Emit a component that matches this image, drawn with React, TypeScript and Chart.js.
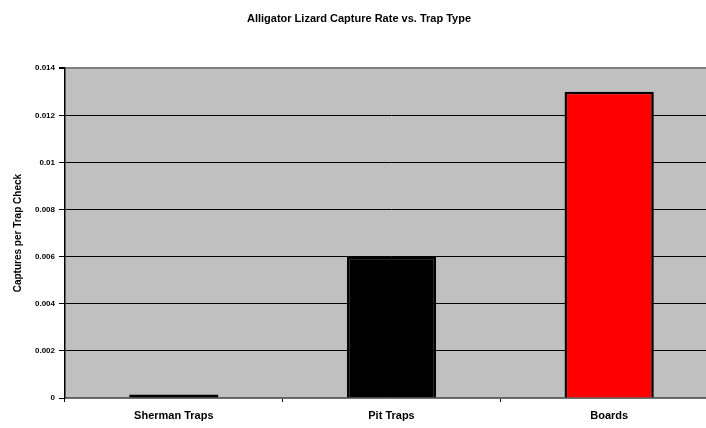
import React, { useEffect, useRef } from "react";
import { Chart, registerables } from "chart.js";

Chart.register(...registerables);

const categories = ["Sherman Traps", "Pit Traps", "Boards"];
const captureRates = [0.00015, 0.006, 0.013];
const barColors = ["#000000", "#000000", "#FF0000"];
const yTickValues = [0, 0.002, 0.004, 0.006, 0.008, 0.01, 0.012, 0.014];

const FONT = "'Liberation Sans', Arial, Helvetica, sans-serif";

const plotBg = {
  id: "plotBg",
  beforeDraw(chart: any) {
    const { ctx, chartArea } = chart;
    ctx.save();
    ctx.fillStyle = "#C0C0C0";
    ctx.fillRect(chartArea.left, chartArea.top, chartArea.right - chartArea.left, chartArea.bottom - chartArea.top);
    ctx.restore();
  },
};

export default function App() {
  const ref = useRef<HTMLCanvasElement>(null);
  useEffect(() => {
    document.body.style.margin = "0";
    const chart = new Chart(ref.current as HTMLCanvasElement, {
      type: "bar",
      data: {
        labels: categories,
        datasets: [
          {
            data: captureRates,
            backgroundColor: barColors,
            borderColor: "#000000",
            borderWidth: 2.5,
            barPercentage: 0.41,
            categoryPercentage: 1,
          },
        ],
      },
      plugins: [plotBg],
      options: {
        responsive: false,
        animation: false,
        layout: { padding: { left: 0, right: 6, top: 0, bottom: 0 } },
        plugins: {
          legend: { display: false },
          tooltip: { enabled: false },
          title: {
            display: true,
            text: "Alligator Lizard Capture Rate vs. Trap Type",
            color: "#000",
            font: { family: FONT, size: 11, weight: "bold" },
            padding: { top: 12, bottom: 43 },
          },
        },
        scales: {
          x: {
            afterFit: (s: any) => {
              s.height = 30;
            },
            grid: {
              offset: true,
              drawOnChartArea: false,
              drawTicks: true,
              tickLength: 4,
              tickColor: "#000",
            },
            border: { display: true, color: "#606060", width: 1.5 },
            ticks: {
              color: "#000",
              font: { family: FONT, size: 11, weight: "bold" },
              padding: 7,
              maxRotation: 0,
            },
          },
          y: {
            min: 0,
            max: 0.014,
            afterFit: (s: any) => {
              s.width = 65;
            },
            afterBuildTicks: (s: any) => {
              s.ticks = yTickValues.map((v) => ({ value: v }));
            },
            grid: {
              color: (c: any) =>
                c.tick && (c.tick.value === 0.014 || c.tick.value === 0) ? "#808080" : "#000000",
              lineWidth: (c: any) => (c.tick && c.tick.value === 0.014 ? 2 : 1),
              drawTicks: true,
              tickLength: 6,
              tickColor: "#000",
            },
            border: { display: true, color: "#000", width: 1.5 },
            ticks: {
              color: "#000",
              font: { family: FONT, size: 8, weight: "bold" },
              padding: 4,
              callback: (v: any) => String(Number(Number(v).toFixed(3))),
            },
            title: {
              display: true,
              text: "Captures per Trap Check",
              color: "#000",
              font: { family: FONT, size: 10, weight: "bold" },
              padding: { top: 12, bottom: 0 },
            },
          },
        },
      },
    } as any);
    return () => chart.destroy();
  }, []);
  return (
    <div style={{ position: "fixed", left: 0, top: 0, width: 706, height: 428, overflow: "hidden", background: "#fff" }}>
      <canvas ref={ref} width={724} height={428} style={{ width: 724, height: 428, display: "block" }} />
    </div>
  );
}
